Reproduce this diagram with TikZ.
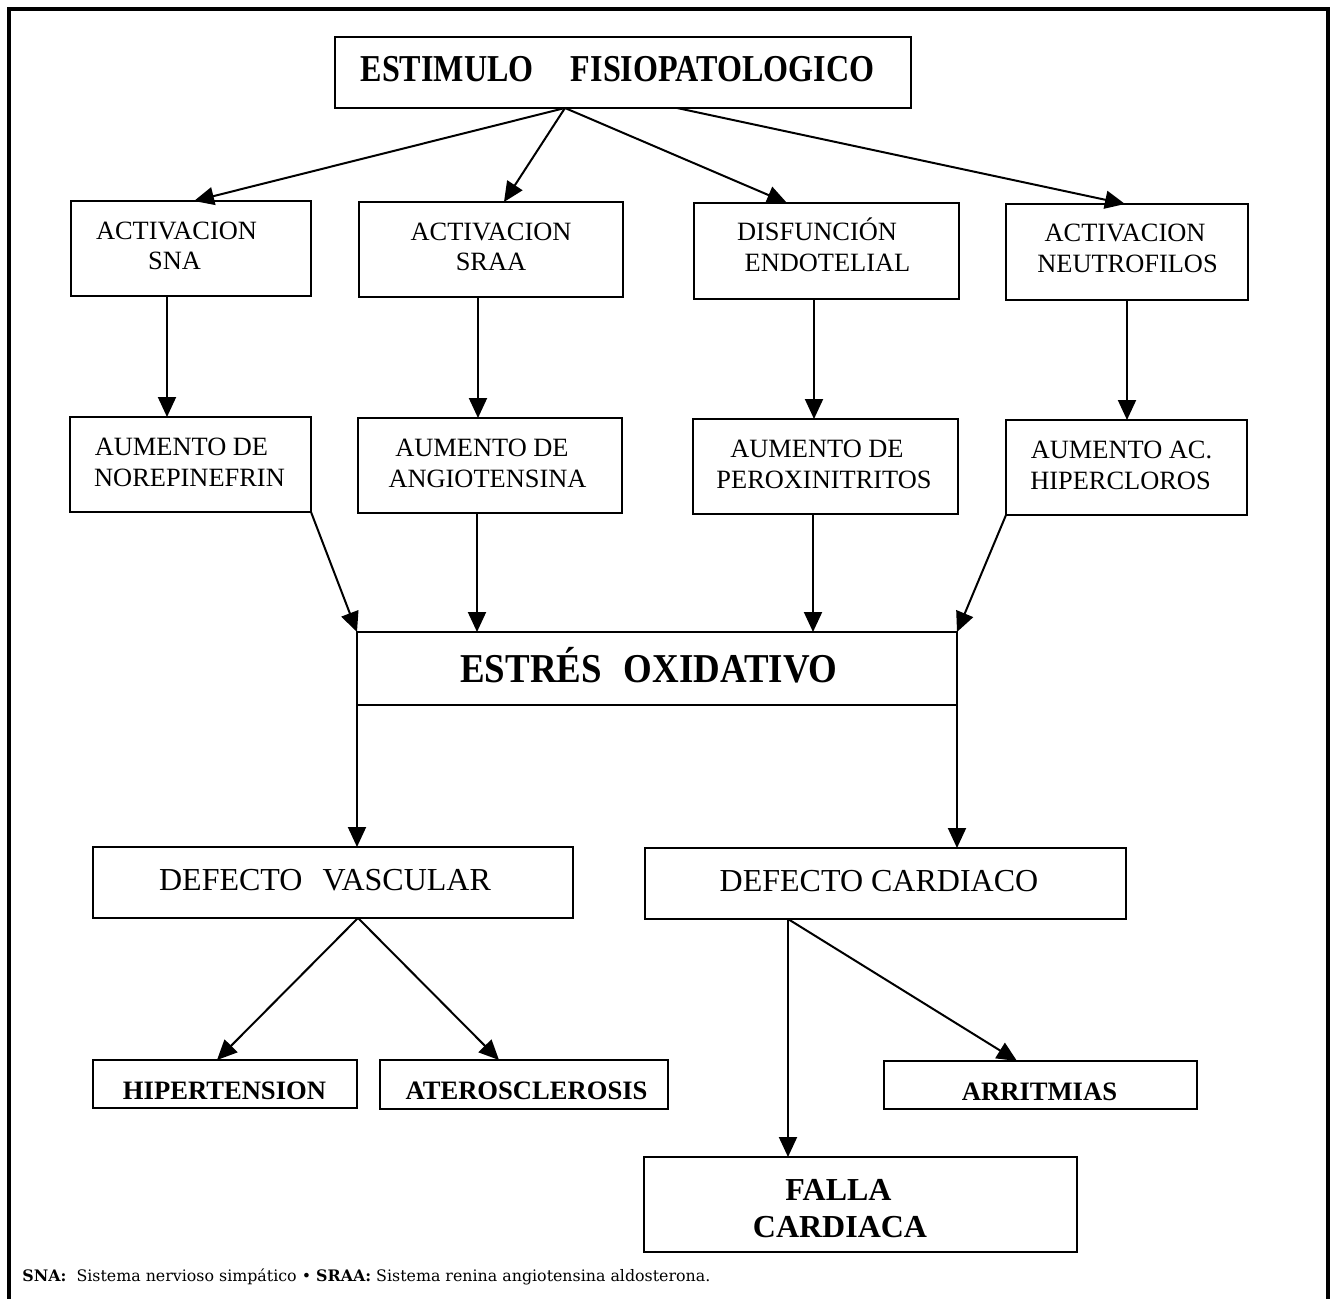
\documentclass[tikz,border=0pt]{standalone}
\usepackage{fontspec}
\setmainfont{Liberation Serif}
\newfontfamily\footfont{DejaVu Serif}
\usetikzlibrary{arrows.meta,fit}
\newcommand\fnorm{\fontsize{13.2pt}{15.5pt}\selectfont}
\newcommand\fdef{\fontsize{16pt}{18pt}\selectfont}
\newcommand\fbld{\bfseries\fontsize{13.3pt}{15pt}\selectfont}
\newcommand\fbig{\bfseries\fontsize{16pt}{18.5pt}\selectfont}
\newcommand\ftitle{\bfseries\fontsize{19pt}{22pt}\selectfont}
\newcommand\fox{\bfseries\fontsize{20.5pt}{24pt}\selectfont}
\begin{document}
\begin{tikzpicture}[x=0.5pt,y=-0.5pt,
  box/.style={draw, line width=1.1pt, inner sep=0pt, outer sep=0pt},
  txt/.style={anchor=base, inner sep=0pt, outer sep=0pt, font=\fnorm},
  arr/.style={line width=1pt, -{Triangle[length=10pt,width=9pt]}}]
\useasboundingbox (0,0) rectangle (1332,1299);
% frame
\draw[line width=1.6pt] (9,1299) -- (9,9) -- (1328,9) -- (1328,1299);
% boxes
\node[box, fit={(335,37) (911,108)}] (est) {};
\node[box, fit={(71,201) (311,296)}] (a1) {};
\node[box, fit={(359,202) (623,297)}] (a2) {};
\node[box, fit={(694,203) (959,299)}] (a3) {};
\node[box, fit={(1006,204) (1248,300)}] (a4) {};
\node[box, fit={(70,417) (311,512)}] (b1) {};
\node[box, fit={(358,418) (622,513)}] (b2) {};
\node[box, fit={(693,419) (958,514)}] (b3) {};
\node[box, fit={(1006,420) (1247,515)}] (b4) {};
\node[box, fit={(357,632) (957,705)}] (ox) {};
\node[box, fit={(93,847) (573,918)}] (dv) {};
\node[box, fit={(645,848) (1126,919)}] (dc) {};
\node[box, fit={(93,1060) (357,1108)}] (hip) {};
\node[box, fit={(380,1060) (668,1109)}] (ate) {};
\node[box, fit={(884,1061) (1197,1109)}] (arr) {};
\node[box, fit={(644,1157) (1077,1252)}] (fal) {};
% texts
\node[txt, font=\ftitle] (test) at (617.5,82) {\scalebox{0.845}[1]{ESTIMULO\hspace{22pt}FISIOPATOLOGICO}};
\node[txt] (ta1a) at (176.5,240) {ACTIVACION};
\node[txt] (ta1b) at (174.5,270) {SNA};
\node[txt] (ta2a) at (491,241) {ACTIVACION};
\node[txt] (ta2b) at (491,271) {SRAA};
\node[txt] (ta3a) at (817,241) {DISFUNCIÓN};
\node[txt] (ta3b) at (827.5,272) {ENDOTELIAL};
\node[txt] (ta4a) at (1125,242) {ACTIVACION};
\node[txt] (ta4b) at (1127.5,273) {NEUTROFILOS};
\node[txt] (tb1a) at (181.5,455) {AUMENTO DE};
\node[txt] (tb1b) at (189.5,486) {NOREPINEFRIN};
\node[txt] (tb2a) at (482,456) {AUMENTO DE};
\node[txt] (tb2b) at (487.5,487) {ANGIOTENSINA};
\node[txt] (tb3a) at (817,457) {AUMENTO DE};
\node[txt] (tb3b) at (824,488) {PEROXINITRITOS};
\node[txt] (tb4a) at (1121.5,458) {AUMENTO AC.};
\node[txt] (tb4b) at (1120.5,489) {HIPERCLOROS};
\node[txt, font=\fox] (tox) at (649,682) {\scalebox{0.9}[1]{ESTRÉS\hspace{12.2pt}OXIDATIVO}};
\node[txt, font=\fdef] (tdv) at (325,890) {DEFECTO\hspace{10pt}VASCULAR};
\node[txt, font=\fdef] (tdc) at (879,891) {DEFECTO CARDIACO};
\node[txt, font=\fbld] (thip) at (224.5,1099) {HIPERTENSION};
\node[txt, font=\fbld] (tate) at (526.5,1099) {ATEROSCLEROSIS};
\node[txt, font=\fbld] (tarr) at (1039.5,1100) {ARRITMIAS};
\node[txt, font=\fbig] (tfa) at (838.5,1200.5) {FALLA};
\node[txt, font=\fbig] (tfb) at (840,1237) {CARDIACA};
\node[anchor=base west, inner sep=0pt] (fn) at (22,1281) {\resizebox{344pt}{!}{\footfont\textbf{SNA:}~ Sistema nervioso simpático • \textbf{SRAA:} Sistema renina angiotensina aldosterona.}};
% x positions for connectors
\coordinate (s1) at (565,0);
\coordinate (s2) at (677,0);
\coordinate (e1) at (194,0);
\coordinate (e2) at (504,0);
\coordinate (e3) at (787,0);
\coordinate (e4) at (1125,0);
\coordinate (v1) at (167,0);
\coordinate (v2) at (478,0);
\coordinate (v3) at (814,0);
\coordinate (v4) at (1127,0);
\coordinate (w2) at (477,0);
\coordinate (w3) at (813,0);
\coordinate (h1) at (217,0);
\coordinate (h2) at (499,0);
\coordinate (pv) at (358,0);
\coordinate (d1) at (788,0);
\coordinate (d2) at (1017,0);
% connectors
\draw[arr] (est.south -| s1) -- (a1.north -| e1);
\draw[arr] (est.south -| s1) -- (a2.north -| e2);
\draw[arr] (est.south -| s1) -- (a3.north -| e3);
\draw[arr] (est.south -| s2) -- (a4.north -| e4);
\draw[arr] (a1.south -| v1) -- (b1.north -| v1);
\draw[arr] (a2.south -| v2) -- (b2.north -| v2);
\draw[arr] (a3.south -| v3) -- (b3.north -| v3);
\draw[arr] (a4.south -| v4) -- (b4.north -| v4);
\draw[arr] (b1.south east) -- (ox.north west);
\draw[arr] (b2.south -| w2) -- (ox.north -| w2);
\draw[arr] (b3.south -| w3) -- (ox.north -| w3);
\draw[arr] (b4.south west) -- (ox.north east);
\draw[arr] (ox.south west) -- (dv.north -| ox.south west);
\draw[arr] (ox.south east) -- (dc.north -| ox.south east);
\draw[arr] (dv.south -| pv) -- (hip.north -| h1);
\draw[arr] (dv.south -| pv) -- (ate.north -| h2);
\draw[arr] (dc.south -| d1) -- (fal.north -| d1);
\draw[arr] (dc.south -| d1) -- (arr.north -| d2);
\end{tikzpicture}
\end{document}
